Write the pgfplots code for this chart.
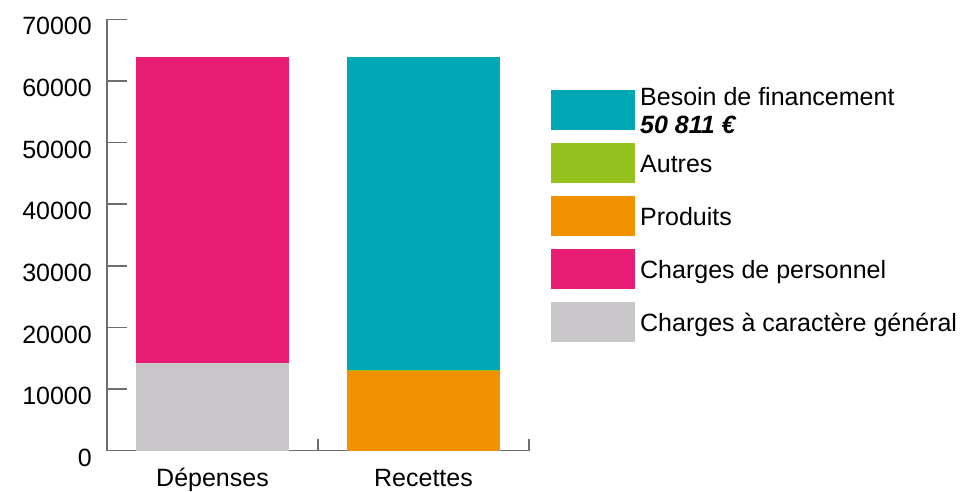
\documentclass[border=0pt]{standalone}
\usepackage{fontspec}
\setmainfont{Liberation Sans}
\usepackage{pgfplots}
\pgfplotsset{compat=1.18}

\definecolor{cgris}{HTML}{C8C6C9}
\definecolor{crose}{HTML}{E81D74}
\definecolor{corange}{HTML}{F29100}
\definecolor{cvert}{HTML}{95C11F}
\definecolor{cbleu}{HTML}{00A7B4}
\definecolor{caxe}{HTML}{6E6E6E}

% legend box: 84 x 40
\pgfplotsset{
  boite/.style={legend image code/.code={\fill[##1] (0bp,-20bp) rectangle (84bp,20bp);}},
}
\newcommand{\lab}{\fontsize{25bp}{28bp}\selectfont}

\begin{document}
\begin{tikzpicture}
\path (0,0) rectangle (963bp,491bp);
\begin{axis}[
    at={(107bp,40.3bp)}, anchor=south west,
    scale only axis,
    width=422bp, height=431.4bp,
    ybar stacked,
    bar width=153bp,
    xmin=-0.5, xmax=1.5,
    ymin=0, ymax=70000,
    enlargelimits=false,
    axis lines=left,
    axis line style={-, draw=caxe, line width=1.4bp},
    tick align=inside,
    major tick length=20bp,
    minor tick length=12bp,
    every tick/.style={draw=caxe, line width=1.4bp},
    xtick={0,1},
    xticklabels={Dépenses,Recettes},
    minor xtick={-0.5,0.5,1.5},
    major x tick style={draw=none},
    ytick={0,10000,...,70000},
    scaled y ticks=false,
    /pgf/number format/1000 sep={},
    /pgf/number format/assume math mode=true,
    tick label style={font=\lab},
    yticklabel style={inner sep=0pt, anchor=east, xshift=-15bp, yshift=-7bp},
    xticklabel style={inner sep=0pt, anchor=base, yshift=-35.5bp},
    reverse legend,
    legend cell align=left,
    legend style={at={(1.0521,0.836)}, anchor=north west, draw=none, fill=none,
        inner sep=0pt, font=\lab, row sep=13bp, column sep=5bp,
        nodes={inner sep=0pt, text height=18bp, text depth=0bp}},
]
% Dépenses / Recettes
\addplot[fill=cgris, draw=none, boite] coordinates {(0,14260) (1,0)};
\addlegendentry{Charges à caractère général}
\addplot[fill=crose, draw=none, boite] coordinates {(0,49631) (1,0)};
\addlegendentry{Charges de personnel}
\addplot[fill=corange, draw=none, boite] coordinates {(0,0) (1,12880)};
\addlegendentry{Produits}
\addplot[fill=cvert, draw=none, boite] coordinates {(0,0) (1,200)};
\addlegendentry{Autres}
\addplot[fill=cbleu, draw=none, boite] coordinates {(0,0) (1,50811)};
\addlegendentry{\raisebox{14bp}{\begin{tabular}[t]{@{}l@{}}Besoin de financement\\\textbf{\textit{50 811 €}}\end{tabular}}}
\end{axis}
\end{tikzpicture}
\end{document}
